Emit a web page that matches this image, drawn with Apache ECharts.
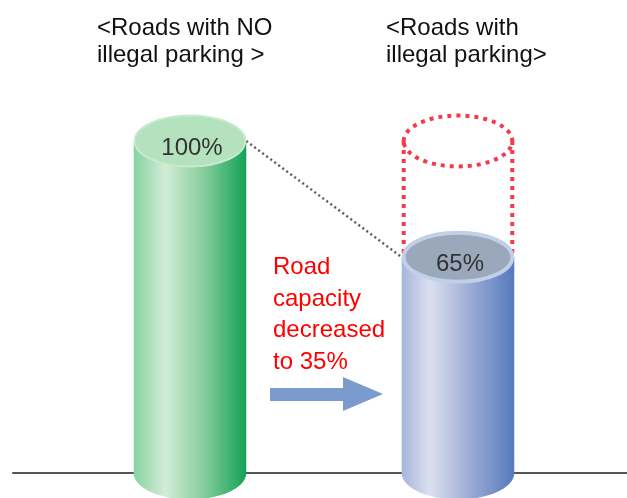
<!DOCTYPE html>
<html><head><meta charset="utf-8">
<script src="https://cdn.jsdelivr.net/npm/echarts@6/dist/echarts.min.js"></script>
<style>html,body{margin:0;padding:0;background:#fff}#c{width:627px;height:498px}</style>
</head><body><div id="c"></div>
<script>
// ---- data ----
const categories = ['Roads with NO illegal parking', 'Roads with illegal parking'];
const capacity = [100, 65];
const originalCapacity = 100;
const valueLabels = ['100%', '65%'];
const titles = ['<Roads with NO\nillegal parking >', '<Roads with\nillegal parking>'];
const noteLines = ['Road', 'capacity', 'decreased', 'to 35%'];

const FONT = '"Liberation Sans", Arial, sans-serif';
const chart = echarts.init(document.getElementById('c'), null, {renderer: 'canvas'});

const palettes = [
  { body: [[0,'#86d29f'],[0.28,'#d2ecd7'],[0.62,'#86cd9c'],[1,'#14a257']], top: '#b4e2be', rim: '#c6ead0', rimW: 2 },
  { body: [[0,'#a7b5dc'],[0.25,'#dbe0ef'],[0.62,'#9aaad4'],[1,'#5679bd']], top: '#9ba7ba', rim: '#c1d0e6', rimW: 4 }
];

function cylinder(params, api) {
  const i = api.value(0), v = api.value(1);
  const top = api.coord([i, v]);
  const base = api.coord([i, 0]);
  const unit = api.size([1, 0])[0];
  const rx = unit * 0.21, ry = rx * 0.47;
  const p = palettes[i];
  const grad = () => new echarts.graphic.LinearGradient(0, 0, 1, 0,
    p.body.map(s => ({offset: s[0], color: s[1]})));
  return {
    type: 'group',
    children: [
      {type: 'ellipse', shape: {cx: base[0], cy: base[1], rx: rx, ry: ry}, style: {fill: grad()}},
      {type: 'rect', shape: {x: top[0] - rx, y: top[1], width: rx * 2, height: base[1] - top[1]}, style: {fill: grad()}},
      {type: 'ellipse', shape: {cx: top[0], cy: top[1], rx: rx - p.rimW / 2, ry: ry - p.rimW / 2},
        style: {fill: p.top, stroke: p.rim, lineWidth: p.rimW}},
      {type: 'text', x: top[0] + 2, y: top[1] + 7,
        style: {text: valueLabels[i], fontSize: 24, fontFamily: FONT, fill: '#333',
          align: 'center', verticalAlign: 'middle'}}
    ]
  };
}

function reduction(params, api) {
  // ghost outline of the lost capacity + connector between tops
  const t0 = api.coord([0, capacity[0]]);
  const t1 = api.coord([1, capacity[1]]);
  const g1 = api.coord([1, originalCapacity]);
  const unit = api.size([1, 0])[0];
  const rx = unit * 0.21, ry = rx * 0.47;
  const red = {stroke: '#f43a4c', lineWidth: 4, lineDash: [4, 5], fill: null};
  const rrx = rx - 2;
  return {
    type: 'group',
    children: [
      {type: 'ellipse', shape: {cx: g1[0], cy: g1[1], rx: rrx, ry: ry - 1}, style: red},
      {type: 'line', shape: {x1: g1[0] - rrx, y1: g1[1], x2: t1[0] - rrx, y2: t1[1]}, style: red},
      {type: 'line', shape: {x1: g1[0] + rrx, y1: g1[1], x2: t1[0] + rrx, y2: t1[1]}, style: red},
      {type: 'line', shape: {x1: t0[0] + rx, y1: t0[1], x2: t1[0] - rx, y2: t1[1]},
        style: {stroke: '#5e5e5e', lineWidth: 2.5, lineDash: [2, 3]}}
    ]
  };
}

chart.setOption({
  animation: false,
  backgroundColor: '#ffffff',
  title: [
    {text: titles[0], left: 92, top: 10, padding: 5,
      textStyle: {fontSize: 24, lineHeight: 27, color: '#111', fontWeight: 'normal', fontFamily: FONT}},
    {text: titles[1], left: 381, top: 10, padding: 5,
      textStyle: {fontSize: 24, lineHeight: 27, color: '#111', fontWeight: 'normal', fontFamily: FONT}},
    {text: noteLines.join('\n'), left: 268, top: 247, padding: 5,
      textStyle: {fontSize: 24, lineHeight: 31.5, color: '#ff0000', fontWeight: 'normal', fontFamily: FONT}}
  ],
  grid: {left: 13, right: 0, top: 141, bottom: 25},
  xAxis: {
    type: 'value', min: -0.6604, max: 1.6306,
    axisLine: {show: true, onZero: true, lineStyle: {color: '#555', width: 2}},
    axisTick: {show: false}, axisLabel: {show: false}, splitLine: {show: false}
  },
  yAxis: {
    type: 'value', min: 0, max: 100,
    axisLine: {show: false}, axisTick: {show: false}, axisLabel: {show: false}, splitLine: {show: false}
  },
  graphic: [
    {type: 'polygon', z: 10,
      shape: {points: [[270, 388], [343, 388], [343, 377], [383, 394], [343, 411], [343, 401], [270, 401]]},
      style: {fill: '#7b9bcf'}}
  ],
  series: [
    {type: 'custom', name: 'reduction', z: 1, renderItem: reduction, data: [[1, capacity[1]]], silent: true},
    {type: 'custom', name: 'capacity', z: 2, renderItem: cylinder,
      data: categories.map((c, i) => [i, capacity[i]]), silent: true}
  ]
});
</script>
</body></html>
